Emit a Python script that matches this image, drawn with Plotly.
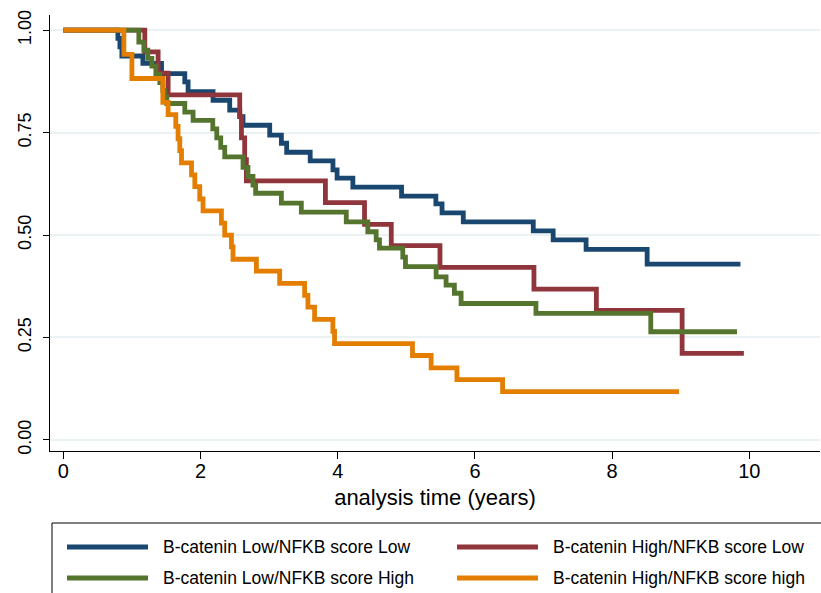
import plotly.graph_objects as go

# ---- data ----
series_names = [
    "B-catenin Low/NFKB score Low",
    "B-catenin High/NFKB score Low",
    "B-catenin Low/NFKB score High",
    "B-catenin High/NFKB score high",
]
series_colors = ["#1a476f", "#90353b", "#55752f", "#e37e00"]

low_low_t = [0, 0.795, 0.824, 0.853, 1.159, 1.431, 1.77, 1.818, 2.182, 2.425, 2.571, 2.619,
             3.008, 3.178, 3.255, 3.598, 3.93, 3.99, 4.22, 4.93, 5.43, 5.52, 5.83, 6.85,
             7.14, 7.62, 8.51, 9.87]
low_low_s = [1.0, 0.980, 0.959, 0.937, 0.919, 0.894, 0.874, 0.850, 0.829, 0.805, 0.789, 0.768,
             0.744, 0.724, 0.702, 0.681, 0.659, 0.639, 0.617, 0.595, 0.576, 0.554, 0.532, 0.510,
             0.488, 0.465, 0.429, 0.429]

high_low_t = [0, 1.187, 1.381, 1.527, 2.571, 2.596, 2.643, 2.668, 3.82, 4.39, 4.78, 5.49,
              6.86, 7.77, 9.02, 9.92]
high_low_s = [1.0, 0.947, 0.895, 0.842, 0.789, 0.737, 0.684, 0.632, 0.579, 0.526, 0.474, 0.421,
              0.368, 0.316, 0.211, 0.211]

low_high_t = [0, 1.100, 1.173, 1.231, 1.290, 1.348, 1.406, 1.450, 1.479, 1.508, 1.770, 1.891,
              2.178, 2.236, 2.294, 2.352, 2.619, 2.691, 2.764, 2.803, 3.178, 3.469, 4.124,
              4.438, 4.56, 4.608, 4.948, 4.987, 5.434, 5.579, 5.70, 5.798, 6.889, 8.563, 9.82]
low_high_s = [1.0, 0.971, 0.951, 0.931, 0.912, 0.892, 0.872, 0.853, 0.837, 0.821, 0.800, 0.780,
              0.759, 0.737, 0.714, 0.691, 0.665, 0.643, 0.622, 0.602, 0.578, 0.556, 0.532,
              0.508, 0.488, 0.468, 0.446, 0.423, 0.398, 0.378, 0.358, 0.333, 0.309, 0.264, 0.264]

high_high_t = [0, 0.882, 0.999, 1.450, 1.527, 1.639, 1.672, 1.697, 1.722, 1.868, 1.916, 1.988,
               2.036, 2.304, 2.352, 2.45, 2.473, 2.814, 3.153, 3.517, 3.565, 3.662, 3.929,
               3.953, 5.089, 5.361, 5.737, 6.403, 8.975]
high_high_s = [1.0, 0.941, 0.882, 0.824, 0.794, 0.765, 0.735, 0.706, 0.676, 0.647, 0.618, 0.588,
               0.559, 0.529, 0.500, 0.471, 0.441, 0.412, 0.382, 0.353, 0.324, 0.294, 0.265,
               0.235, 0.206, 0.176, 0.147, 0.118, 0.118]

x_ticks = [0, 2, 4, 6, 8, 10]
y_ticks = [0, 0.25, 0.5, 0.75, 1.0]
y_tick_labels = ["0.00", "0.25", "0.50", "0.75", "1.00"]
x_title = "analysis time (years)"

series_t = [low_low_t, high_low_t, low_high_t, high_high_t]
series_s = [low_low_s, high_low_s, low_high_s, high_high_s]

FONT = "Liberation Sans, Arial, Helvetica, sans-serif"

fig = go.Figure()
for name, color, t, s in zip(series_names, series_colors, series_t, series_s):
    fig.add_trace(go.Scatter(x=t, y=s, mode="lines", name=name,
                             line=dict(color=color, width=4.8, shape="hv"),
                             showlegend=False))

# ---- manual Stata-style legend (paper coordinates) ----
W, H = 821, 593
L, R, T, B = 50, 1, 15, 142
pw, ph = W - L - R, H - T - B

def px(X):
    return (X - L) / pw

def py(Y):
    return (H - B - Y) / ph

shapes = [dict(type="rect", xref="paper", yref="paper",
               x0=px(52), x1=px(821.5), y0=py(523), y1=py(594),
               line=dict(color="black", width=1), fillcolor="rgba(0,0,0,0)")]
annotations = []
cols = [(67, 148, 161), (457, 538, 551)]
rows = [547, 578]
for i, (name, color) in enumerate(zip(series_names, series_colors)):
    c = cols[i % 2]
    r = rows[i // 2]
    shapes.append(dict(type="line", xref="paper", yref="paper",
                       x0=px(c[0]), x1=px(c[1]), y0=py(r), y1=py(r),
                       line=dict(color=color, width=4.8)))
    annotations.append(dict(xref="paper", yref="paper", x=px(c[2]), y=py(r),
                            xanchor="left", yanchor="middle", text=name,
                            showarrow=False,
                            font=dict(family=FONT, size=17.5, color="black")))

fig.update_layout(
    width=W, height=H,
    margin=dict(l=L, r=R, t=T, b=B, pad=0),
    paper_bgcolor="white", plot_bgcolor="white",
    showlegend=False,
    shapes=shapes, annotations=annotations,
    font=dict(family=FONT, color="black"),
    xaxis=dict(range=[-0.195, 11.03], tickvals=x_ticks, ticks="outside", ticklen=7,
               tickwidth=1.2, tickcolor="black", showline=True, linecolor="black",
               linewidth=1.2, showgrid=False, zeroline=False,
               ticklabelstandoff=-5,
               tickfont=dict(size=20, family=FONT),
               title=dict(text=x_title, font=dict(size=22, family=FONT), standoff=8)),
    yaxis=dict(range=[-0.027, 1.037], tickvals=y_ticks, ticktext=y_tick_labels,
               ticks="outside", ticklen=6, tickwidth=1.2, tickcolor="black",
               showline=True, linecolor="black", linewidth=1.2,
               showgrid=True, gridcolor="#eaf2f3", gridwidth=1.5, zeroline=False,
               tickangle=-90, ticklabelstandoff=5,
               tickfont=dict(size=18, family=FONT)),
)

fig.write_html("out.html")
